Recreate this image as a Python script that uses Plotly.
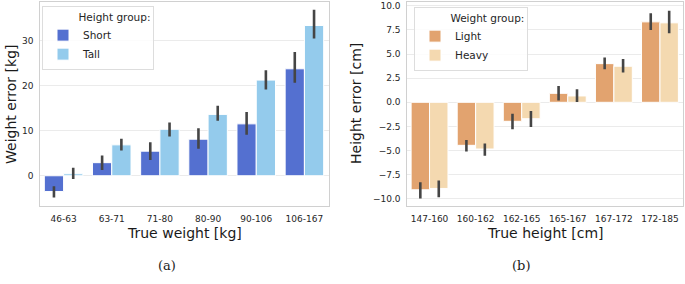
import plotly.graph_objects as go

W, H = 685, 284

weight_cats = ["46-63", "63-71", "71-80", "80-90", "90-106", "106-167"]
short_vals = [-3.5, 2.9, 5.45, 8.1, 11.5, 23.7]
short_lo = [-4.8, 1.25, 3.5, 6.0, 9.1, 20.6]
short_hi = [-2.3, 4.5, 7.4, 10.5, 14.1, 27.4]
tall_vals = [0.44, 6.85, 10.3, 13.6, 21.2, 33.3]
tall_lo = [-0.7, 5.6, 8.7, 12.2, 19.1, 30.4]
tall_hi = [1.8, 8.2, 11.8, 15.5, 23.4, 36.8]

height_cats = ["147-160", "160-162", "162-165", "165-167", "167-172", "172-185"]
light_vals = [-9.07, -4.46, -1.97, 0.93, 4.01, 8.34]
light_lo = [-9.97, -5.1, -2.8, 0.2, 3.43, 7.5]
light_hi = [-8.3, -3.9, -1.18, 1.7, 4.64, 9.24]
heavy_vals = [-8.93, -4.84, -1.7, 0.66, 3.74, 8.24]
heavy_lo = [-9.83, -5.54, -2.56, 0.03, 3.1, 7.16]
heavy_hi = [-8.1, -4.26, -0.9, 1.35, 4.5, 9.48]

C_SHORT, C_TALL = "#5470D0", "#94CBEC"
C_LIGHT, C_HEAVY = "#E2A36F", "#F4D9B0"
ERR = "#454545"
FONT = "DejaVu Sans"
PAD = "\u00a0" * 10


def bar(name, cats, vals, lo, hi, color, xa, ya, legend):
    return go.Bar(
        name=name, x=cats, y=vals, xaxis=xa, yaxis=ya, legend=legend,
        marker=dict(color=color, line=dict(color="white", width=1)),
        error_y=dict(type="data", symmetric=False,
                     array=[h - v for h, v in zip(hi, vals)],
                     arrayminus=[v - l for l, v in zip(lo, vals)],
                     color=ERR, thickness=2.6, width=0),
    )


fig = go.Figure()
fig.add_trace(bar("Short", weight_cats, short_vals, short_lo, short_hi, C_SHORT, "x", "y", "legend"))
fig.add_trace(bar("Tall", weight_cats, tall_vals, tall_lo, tall_hi, C_TALL, "x", "y", "legend"))
fig.add_trace(bar("Light", height_cats, light_vals, light_lo, light_hi, C_LIGHT, "x2", "y2", "legend2"))
fig.add_trace(bar("Heavy", height_cats, heavy_vals, heavy_lo, heavy_hi, C_HEAVY, "x2", "y2", "legend2"))

ydom = [(H - 206) / H, (H - 2) / H]
axis_common = dict(showline=True, mirror=True, linecolor="#D0D0D0", linewidth=1.25,
                   zeroline=False, tickfont=dict(family=FONT, size=9, color="#262626"))

legend_common = dict(xanchor="left", yanchor="top",
                     bgcolor="rgba(255,255,255,0.85)", bordercolor="#DDDDDD", borderwidth=1,
                     font=dict(family=FONT, size=10.5, color="#262626"),
                     itemwidth=30, tracegroupgap=0)

fig.update_layout(
    width=W, height=H, margin=dict(l=0, r=0, t=0, b=0),
    paper_bgcolor="white", plot_bgcolor="white",
    font=dict(family=FONT, color="#262626"),
    barmode="group", bargap=0.2, bargroupgap=0,
    xaxis=dict(domain=[39.5 / W, 328.5 / W], anchor="y", range=[-0.5, 5.5],
               showgrid=False, ticks="outside", ticklen=4, tickcolor="rgba(0,0,0,0)",
               **axis_common),
    yaxis=dict(domain=ydom, anchor="x", range=[-6.7, 38.5], tickvals=[0, 10, 20, 30],
               showgrid=True, gridcolor="#EBEBEB", gridwidth=1, ticks="outside",
               ticklen=3, tickcolor="rgba(0,0,0,0)", **axis_common),
    xaxis2=dict(domain=[406.5 / W, 683 / W], anchor="y2", range=[-0.5, 5.5],
                showgrid=False, ticks="outside", ticklen=4, tickcolor="rgba(0,0,0,0)",
                **axis_common),
    yaxis2=dict(domain=ydom, anchor="x2", range=[-10.75, 10.4],
                tickvals=[-10, -7.5, -5, -2.5, 0, 2.5, 5, 7.5, 10],
                ticktext=["\u221210.0", "\u22127.5", "\u22125.0", "\u22122.5", "0.0",
                          "2.5", "5.0", "7.5", "10.0"],
                showgrid=True, gridcolor="#EBEBEB", gridwidth=1, ticks="outside",
                ticklen=3, tickcolor="rgba(0,0,0,0)", **axis_common),
    legend=dict(x=42 / W, y=(H - 6) / H,
                title=dict(text=PAD + "Height group:", side="top",
                           font=dict(family=FONT, size=10.5, color="#262626")),
                **legend_common),
    legend2=dict(x=414 / W, y=(H - 7) / H,
                 title=dict(text=PAD + "Weight group:", side="top",
                            font=dict(family=FONT, size=10.5, color="#262626")),
                 **legend_common),
    showlegend=True,
)

ann = [
    dict(text="True weight [kg]", x=184 / W, y=(H - 233) / H, size=14, family=FONT, angle=0),
    dict(text="True height [cm]", x=545 / W, y=(H - 233) / H, size=14, family=FONT, angle=0),
    dict(text="Weight error [kg]", x=11 / W, y=(H - 104) / H, size=14, family=FONT, angle=-90),
    dict(text="Height error [cm]", x=356 / W, y=(H - 104) / H, size=14, family=FONT, angle=-90),
    dict(text="(a)", x=167 / W, y=(H - 265) / H, size=13, family="DejaVu Serif", angle=0),
    dict(text="(b)", x=521 / W, y=(H - 265) / H, size=13, family="DejaVu Serif", angle=0),
]
for a in ann:
    fig.add_annotation(text=a["text"], x=a["x"], y=a["y"], xref="paper", yref="paper",
                       xanchor="center", yanchor="middle", showarrow=False, textangle=a["angle"],
                       font=dict(family=a["family"], size=a["size"], color="#1a1a1a"))

fig.write_html("out.html", config={"displayModeBar": False},
               post_script="document.body.style.margin='0';document.body.style.padding='0';")
